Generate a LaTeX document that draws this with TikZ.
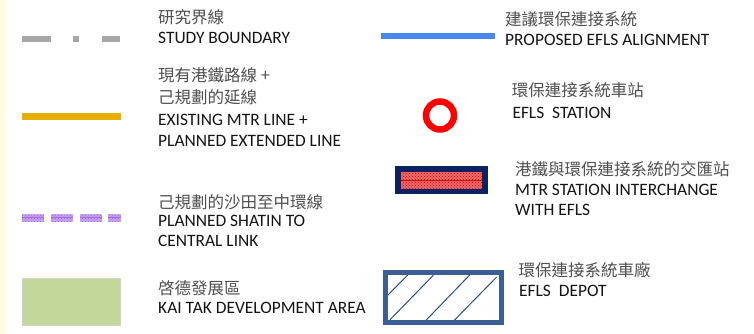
\documentclass[tikz,border=0pt]{standalone}
\usepackage{fontspec}
\setmainfont{Carlito}
\newfontfamily\cjk{Noto Sans CJK TC}
\usetikzlibrary{patterns}
\definecolor{txt}{HTML}{141414}
\definecolor{cjktxt}{HTML}{505050}
\definecolor{bndgray}{HTML}{A6A6A6}
\definecolor{mtryellow}{HTML}{E6AE00}
\definecolor{sclfill}{HTML}{C8A2EE}
\definecolor{sclline}{HTML}{A36AE0}
\definecolor{ktgreen}{HTML}{C4D79B}
\definecolor{ktborder}{HTML}{D2D2D2}
\definecolor{eflsblue}{HTML}{4A86EC}
\definecolor{navy}{HTML}{0B2161}
\definecolor{intred}{HTML}{E96A6C}
\definecolor{depotblue}{HTML}{3B5E94}
\definecolor{hatchblue}{HTML}{2E4D82}
\definecolor{stripyellow}{HTML}{FFFBE3}
\tikzset{
  en/.style={anchor=base west, inner sep=0pt, text=txt, font=\fontsize{17.4}{21}\selectfont},
  zh/.style={anchor=base west, inner sep=0pt, text=cjktxt, font=\fontsize{16.5}{21}\selectfont\cjk},
}
\begin{document}
\begin{tikzpicture}[x=1pt, y=-1pt]
\useasboundingbox (0,0) rectangle (754,334);
\fill[white] (0,0) rectangle (754,334);
% faint left strip
\fill[stripyellow] (0,0) rectangle (6,334);

% study boundary
\begin{scope}[line width=6pt, draw=bndgray]
  \draw[bndgray] (22.3,39) -- (50.7,39);
  \draw[bndgray] (72.7,39) -- (79.3,39);
  \draw[bndgray] (101.7,39) -- (120,39);
\end{scope}
\node[zh] (t1a) at (158,23.3) {研究界線};
\node[en] (t1b) at (158,43.3) {STUDY BOUNDARY};

% existing MTR line
\draw[mtryellow, line width=6.7pt] (22.3,116.7) -- (120.7,116.7);
\node[zh] (t2a) at (158,82) {現有港鐵路線 +};
\node[zh] (t2b) at (158,103) {己規劃的延線};
\node[en] (t2c) at (158,125) {EXISTING MTR LINE +};
\node[en] (t2d) at (158,146) {PLANNED EXTENDED LINE};

% Shatin to Central Link
\foreach \a/\b in {22/44, 51/73, 80/102, 108.3/120.7}{
  \fill[sclfill] (\a,214.2) rectangle (\b,221.6);
  \draw[sclline, line width=1pt] (\a,217.9) -- (\b,217.9);
  \fill[pattern=crosshatch dots, pattern color=sclline] (\a,214.2) rectangle (\b,221.6);
}
\node[zh] (t3a) at (158,208) {己規劃的沙田至中環線};
\node[en] (t3b) at (158,226.7) {PLANNED SHATIN TO};
\node[en] (t3c) at (158,246.7) {CENTRAL LINK};

% Kai Tak development area
\filldraw[fill=ktgreen, draw=ktborder, line width=1pt] (22,278) rectangle (120.5,325.5);
\node[zh] (t4a) at (158,294.5) {啓德發展區};
\node[en] (t4b) at (158,313) {KAI TAK DEVELOPMENT AREA};

% proposed EFLS alignment
\draw[eflsblue, line width=6.5pt] (380.7,36) -- (495,36);
\node[zh] (t5a) at (505,25.5) {建議環保連接系統};
\node[en] (t5b) at (505,46) {PROPOSED EFLS ALIGNMENT};

% EFLS station
\draw[red, line width=6.5pt] (440,115.5) circle (14);
\node[zh] (t6a) at (511.7,97) {環保連接系統車站};
\node[en] (t6b) at (512.3,118.3) {EFLS~~STATION};

% interchange
\fill[navy] (395,166) rectangle (488.3,194.3);
\fill[intred] (401,171.7) rectangle (482.3,188.6);
\fill[pattern=crosshatch dots, pattern color=red!85!black] (401,171.7) rectangle (482.3,188.6);
\draw[red!80!black, line width=0.8pt] (401,180.2) -- (482.3,180.2);
\node[zh] (t7a) at (515,175) {港鐵與環保連接系統的交匯站};
\node[en] (t7b) at (515,195) {MTR STATION INTERCHANGE};
\node[en] (t7c) at (515,215.7) {WITH EFLS};

% depot
\begin{scope}
  \clip (385.8,272.8) rectangle (501.5,322.2);
  \draw[hatchblue, line width=1pt] (386,297) -- (410.7,272);
  \draw[hatchblue, line width=1pt] (390,319.8) -- (433.3,275.3);
  \draw[hatchblue, line width=1pt] (425,321.3) -- (470,274.7);
  \draw[hatchblue, line width=1pt] (453.3,321.3) -- (496.7,277);
\end{scope}
\draw[depotblue, line width=5pt] (385.8,272.8) rectangle (501.5,322.2);
\node[zh] (t8a) at (518.3,276) {環保連接系統車廠};
\node[en] (t8b) at (519,296) {EFLS~~DEPOT};
\end{tikzpicture}
\end{document}
